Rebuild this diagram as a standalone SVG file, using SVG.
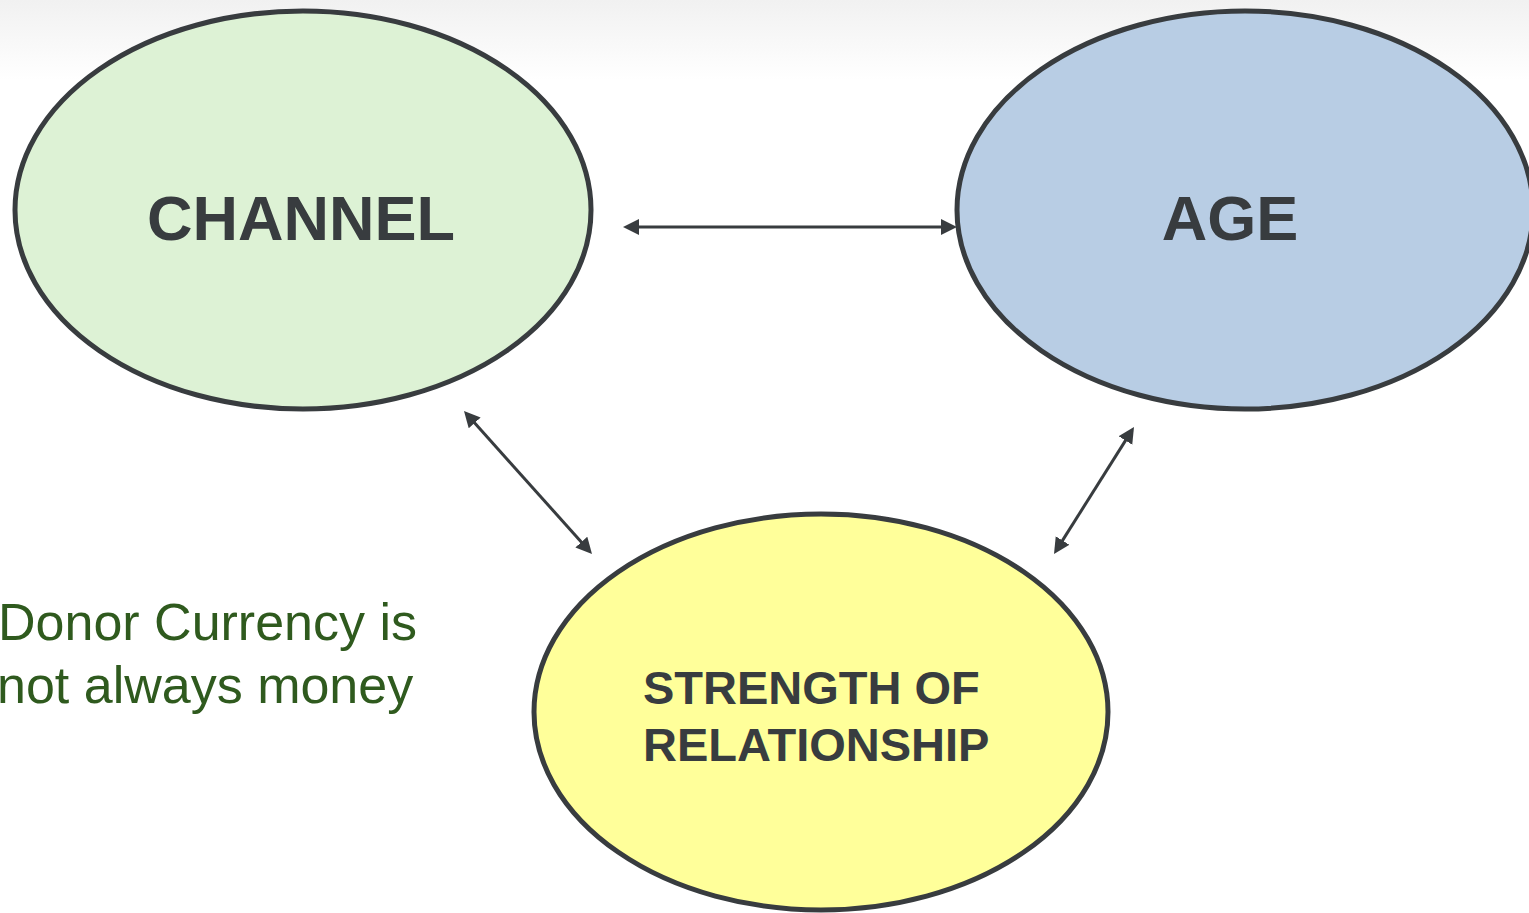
<svg xmlns="http://www.w3.org/2000/svg" width="1529" height="913" viewBox="0 0 1529 913">
<style>
.node ellipse{stroke:#383c3f;stroke-width:5}
.lbl{font-family:"Liberation Sans",Arial,sans-serif;font-weight:bold;fill:#383c3f;text-anchor:middle}
.lbl.start{text-anchor:start}
.conn{stroke:#383c3f;stroke-width:3;fill:none;marker-start:url(#ah);marker-end:url(#ah)}
.note{font-family:"Liberation Sans",Arial,sans-serif;font-size:52px;fill:#2f5a1e}
</style>
<defs>
<linearGradient id="bg" x1="0" y1="0" x2="0" y2="1">
<stop offset="0" stop-color="#f1f1f1"/>
<stop offset="1" stop-color="#ffffff"/>
</linearGradient>
<marker id="ah" markerUnits="userSpaceOnUse" markerWidth="17" markerHeight="17" refX="10" refY="8" orient="auto-start-reverse">
<path d="M0,0 L16,8 L0,16 z" fill="#383c3f"/>
</marker>
</defs>
<rect width="1529" height="913" fill="#ffffff"/>
<rect width="1529" height="80" fill="url(#bg)"/>
<g id="connectors">
<line class="conn" x1="629" y1="227" x2="951" y2="227"/>
<line class="conn" x1="468" y1="415.5" x2="588" y2="549.5"/>
<line class="conn" x1="1130.8" y1="432.1" x2="1057.2" y2="548.9"/>
</g>
<g id="channel" class="node">
<ellipse cx="303" cy="210" rx="288" ry="199" fill="#ddf2d5"/>
<text class="lbl" x="301" y="240" font-size="63">CHANNEL</text>
</g>
<g id="age" class="node">
<ellipse cx="1245" cy="210" rx="288" ry="199" fill="#b8cde4"/>
<text class="lbl" x="1230" y="240" font-size="63">AGE</text>
</g>
<g id="strength" class="node">
<ellipse cx="821" cy="712" rx="287" ry="198" fill="#ffff9a"/>
<text class="lbl start" x="643" y="704" font-size="47">STRENGTH OF</text>
<text class="lbl start" x="643" y="761" font-size="47">RELATIONSHIP</text>
</g>
<g id="note">
<text class="note" x="-2" y="640">Donor Currency is</text>
<text class="note" x="-3" y="703">not always money</text>
</g>
</svg>
